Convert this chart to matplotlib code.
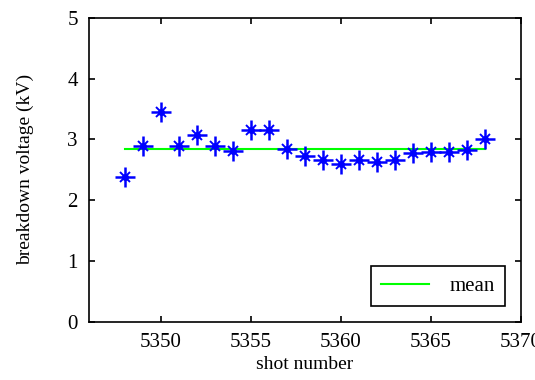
import matplotlib
matplotlib.use('Agg')
import matplotlib.pyplot as plt
import numpy as np

# shot numbers and measured breakdown voltages (kV)
shots = [5348, 5349, 5350, 5351, 5352, 5353, 5354, 5355, 5356, 5357, 5358,
         5359, 5360, 5361, 5362, 5363, 5364, 5365, 5366, 5367, 5368]
voltage = [2.38, 2.90, 3.45, 2.90, 3.08, 2.90, 2.81, 3.15, 3.15, 2.84, 2.73,
           2.66, 2.59, 2.66, 2.63, 2.66, 2.77, 2.80, 2.80, 2.83, 3.01]
x_ticks = [5350, 5355, 5360, 5365, 5370]
y_ticks = [0, 1, 2, 3, 4, 5]

plt.rcParams['font.family'] = ['Liberation Serif', 'DejaVu Serif']

fig = plt.figure(figsize=(5.35, 3.8), dpi=100)
ax = fig.add_axes([0.166, 0.153, 0.808, 0.80])

mean_v = np.mean(voltage)
ax.plot([shots[0], shots[-1]], [mean_v, mean_v], color='#00ff00', linewidth=1.5,
        label='mean', zorder=2)

# matlab style asterisk: plus + small cross + dot
ax.plot(shots, voltage, linestyle='none', marker='+', markersize=14,
        markeredgewidth=1.8, color='#0000ff', zorder=3)
ax.plot(shots, voltage, linestyle='none', marker='x', markersize=7,
        markeredgewidth=1.4, color='#0000ff', zorder=3)
ax.plot(shots, voltage, linestyle='none', marker='o', markersize=4,
        color='#0000ff', zorder=3)

ax.set_xlim(5346, 5370)
ax.set_ylim(0, 5)
ax.set_xticks(x_ticks)
ax.set_yticks(y_ticks)
ax.tick_params(direction='in', top=True, right=True, length=4, width=1.2,
               labelsize=15)
ax.tick_params(axis='x', pad=8)
ax.tick_params(axis='y', pad=8)
for s in ax.spines.values():
    s.set_linewidth(1.2)

ax.set_xlabel('shot number', fontsize=14, labelpad=3)
ax.set_ylabel('breakdown voltage (kV)', fontsize=14, labelpad=24)

leg = ax.legend(loc='lower right', fontsize=15, fancybox=False, framealpha=1,
                edgecolor='black', borderaxespad=0.75, handlelength=2.3,
                handletextpad=1.0, borderpad=0.5)
leg.get_frame().set_linewidth(1.2)

fig.savefig('out.png', dpi=100)
